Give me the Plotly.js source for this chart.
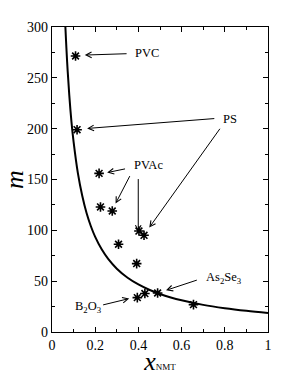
<!DOCTYPE html>
<html>
<head>
<meta charset="utf-8">
<script src="https://cdn.plot.ly/plotly-3.0.1.min.js"></script>
<style>html,body{margin:0;padding:0;background:#fff;}#chart{width:291px;height:376px;}</style>
</head>
<body>
<div id="chart"></div>
<script>
// Experimental points (x_NMT, m)
var pointX = [0.109, 0.116, 0.218, 0.2245, 0.279, 0.308, 0.4025, 0.426, 0.392, 0.395, 0.430, 0.489, 0.655];
var pointM = [271.5, 199, 156, 123, 119, 86.3, 99.3, 95.1, 67.3, 33.8, 37.8, 38.4, 26.9];

// Curve
var curveX = [0.062, 0.07, 0.08, 0.09, 0.1, 0.12, 0.14, 0.16, 0.18, 0.2, 0.23, 0.26, 0.3, 0.35, 0.4, 0.45, 0.5, 0.55, 0.6, 0.7, 0.8, 0.9, 1.0];
var curveM = [300, 266, 233, 207, 187, 156, 134, 117, 104, 93.5, 81.3, 71.9, 62.3, 53.4, 46.8, 41.6, 37.4, 34, 31.2, 26.7, 23.4, 20.8, 18.7];

// Labels
var labelText = ['PVC', 'PS', 'PVAc', 'As<sub>2</sub>Se<sub>3</sub>', 'B<sub>2</sub>O<sub>3</sub>'];
var labelX = [0.438, 0.825, 0.4457, 0.7043, 0.0975];
var labelM = [274.6, 209.2, 164, 53.5, 24.6];
var labelAnchor = ['center', 'center', 'center', 'left', 'left'];

// Arrows: head (x, m) and tail offset in pixels
var arrowX = [0.1518, 0.1625, 0.4503, 0.2553, 0.2943, 0.3993, 0.5279, 0.3575];
var arrowM = [272.4, 200.2, 102.7, 156.8, 126.3, 98.4, 41.0, 32.9];
var arrowAX = [43.3, 128.7, 71.7, 19.4, 15, 0, 32.3, -27.6];
var arrowAY = [-1.4, -10, -100.3, -4, -29, -54.4, -10.7, 6.7];

var xTickVals = [0, 0.2, 0.4, 0.6, 0.8, 1];
var xTickText = ['0', '0.2', '0.4', '0.6', '0.8', '1'];
var yTickVals = [0, 50, 100, 150, 200, 250, 300];
var yTickText = ['0', '50', '100', '150', '200', '250', '300'];

var serif = 'Liberation Serif';

var traces = [
  {x: curveX, y: curveM, mode: 'lines', type: 'scatter', line: {color: '#000', width: 2, shape: 'spline'}, hoverinfo: 'skip'},
  {x: pointX, y: pointM, mode: 'markers', type: 'scatter', marker: {symbol: 'asterisk-open', size: 8, color: '#000', line: {color: '#000', width: 1.6}}},
  {x: pointX, y: pointM, mode: 'markers', type: 'scatter', marker: {symbol: 'circle', size: 3.5, color: '#000'}}
];

var annotations = [];
for (var i = 0; i < labelText.length; i++) {
  annotations.push({x: labelX[i], y: labelM[i], xref: 'x', yref: 'y', text: labelText[i], showarrow: false,
    xanchor: labelAnchor[i], yanchor: 'middle', font: {family: serif, size: 12.5, color: '#000'}});
}
for (var j = 0; j < arrowX.length; j++) {
  annotations.push({x: arrowX[j], y: arrowM[j], xref: 'x', yref: 'y', text: '', showarrow: true,
    ax: arrowAX[j], ay: arrowAY[j], arrowhead: 5, arrowsize: 1.1, arrowwidth: 1, arrowcolor: '#000', standoff: 0});
}

var axisCommon = {
  showgrid: false, zeroline: false, showline: true, linecolor: '#000', linewidth: 1.3,
  mirror: 'ticks', ticks: 'inside', ticklen: 5, tickwidth: 1, tickcolor: '#000',
  tickfont: {family: serif, size: 14, color: '#000'}, fixedrange: true
};

var layout = {
  width: 291, height: 376,
  margin: {l: 52, r: 23, t: 27, b: 44, pad: 0},
  paper_bgcolor: '#fff', plot_bgcolor: '#fff',
  showlegend: false,
  font: {family: serif, color: '#000'},
  xaxis: Object.assign({}, axisCommon, {
    range: [0, 1], tickmode: 'array', tickvals: xTickVals, ticktext: xTickText,
    minor: {dtick: 0.1, ticks: 'inside', ticklen: 3, tickcolor: '#000', showgrid: false},
    title: {text: '<i>x</i><span style="font-size:9px">NMT</span>', font: {family: serif, size: 26, color: '#000'}, standoff: 0}
  }),
  yaxis: Object.assign({}, axisCommon, {
    range: [0, 300], tickmode: 'array', tickvals: yTickVals, ticktext: yTickText,
    minor: {dtick: 25, ticks: 'inside', ticklen: 3, tickcolor: '#000', showgrid: false},
    title: {text: '<i>m</i>', font: {family: serif, size: 26, color: '#000'}, standoff: 0}
  }),
  annotations: annotations
};

Plotly.newPlot('chart', traces, layout, {staticPlot: true, displayModeBar: false});
</script>
</body>
</html>
